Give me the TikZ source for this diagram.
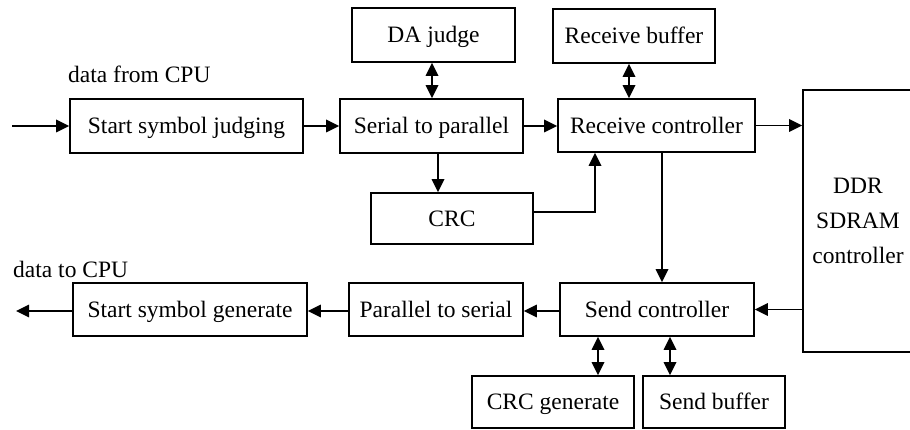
\documentclass[tikz,border=0pt]{standalone}
\usepackage{fontspec}
\setmainfont{Liberation Serif}
\usetikzlibrary{arrows.meta}
\begin{document}
\begin{tikzpicture}[x=1pt,y=-1pt,
  blk/.style={draw,line width=1.6pt,inner sep=0pt,align=center,
    text height=15.6pt,text depth=0pt,
    font=\fontsize{23.5}{35}\selectfont},
  tall/.style={draw,line width=1.6pt,inner sep=0pt,align=center,
    font=\fontsize{23.5}{35}\selectfont},
  lbl/.style={inner sep=0pt,font=\fontsize{23.5}{28}\selectfont},
  tip/.tip={Triangle[length=13pt,width=12.5pt]},
  arr/.style={line width=1.8pt,-tip},
  dbl/.style={line width=1.8pt,tip-tip}]
\useasboundingbox (0,0) rectangle (910,430);
\clip (0,0) rectangle (910,430);

% receive path
\node[blk,minimum width=163pt,minimum height=54pt] (da)  at (433.5,35)   {DA judge};
\node[blk,minimum width=162pt,minimum height=54pt] (rb)  at (634,36)     {Receive buffer};
\node[blk,minimum width=233pt,minimum height=54pt] (ssj) at (186.5,126)  {Start symbol judging};
\node[blk,minimum width=183pt,minimum height=54pt] (s2p) at (431.5,126)  {Serial to parallel};
\node[blk,minimum width=197pt,minimum height=53pt] (rc)  at (656.5,125.5){Receive controller};
\node[blk,minimum width=162pt,minimum height=51pt] (crc) at (452,218.5)  {CRC};

% memory controller (right side runs past the edge)
\node[tall,minimum width=110pt,minimum height=262pt] (ddr) at (858,221) {DDR\\SDRAM\\controller};

% send path
\node[blk,minimum width=234pt,minimum height=53pt] (ssg) at (190,309.5)  {Start symbol generate};
\node[blk,minimum width=174pt,minimum height=53pt] (p2s) at (436,309.5)  {Parallel to serial};
\node[blk,minimum width=194pt,minimum height=53pt] (sc)  at (657,309.5)  {Send controller};
\node[blk,minimum width=162pt,minimum height=52pt] (cg)  at (553,402)    {CRC generate};
\node[blk,minimum width=142pt,minimum height=52pt] (sb)  at (714,402)    {Send buffer};

% free labels
\node[lbl,anchor=base west] (din)  at (68,83)  {data from CPU};
\node[lbl,anchor=base west] (dout) at (13,278) {data to CPU};

% helper coordinates
\coordinate (inp)  at (12,126);
\coordinate (outp) at (16,311);
\coordinate (xda)  at (432,0);
\coordinate (xrb)  at (629,0);
\coordinate (xcrc) at (438,0);
\coordinate (xfb)  at (595,0);
\coordinate (yfb)  at (0,212);
\coordinate (xrs)  at (662,0);
\coordinate (xcg)  at (598,0);
\coordinate (xsb)  at (670,0);
\coordinate (ytx)  at (0,311);

% receive connectors
\draw[arr] (inp) -- (ssj.west |- inp);
\draw[arr] (ssj) -- (s2p);
\draw[arr] (s2p) -- (s2p.east -| rc.west);
\draw[arr] (rc.east) -- (rc.east -| ddr.west);
\draw[dbl] (da.south -| xda) -- (s2p.north -| xda);
\draw[dbl] (rb.south -| xrb) -- (rc.north -| xrb);
\draw[arr] (s2p.south -| xcrc) -- (crc.north -| xcrc);
\draw[arr] (crc.east |- yfb) -| (rc.south -| xfb);
\draw[arr] (rc.south -| xrs) -- (sc.north -| xrs);

% send connectors
\draw[arr] (ddr.west |- sc.east) -- (sc.east);
\draw[arr] (sc.west |- ytx) -- (p2s.east |- ytx);
\draw[arr] (p2s.west |- ytx) -- (ssg.east |- ytx);
\draw[arr] (ssg.west |- outp) -- (outp);
\draw[dbl] (sc.south -| xcg) -- (cg.north -| xcg);
\draw[dbl] (sc.south -| xsb) -- (sb.north -| xsb);
\end{tikzpicture}
\end{document}
